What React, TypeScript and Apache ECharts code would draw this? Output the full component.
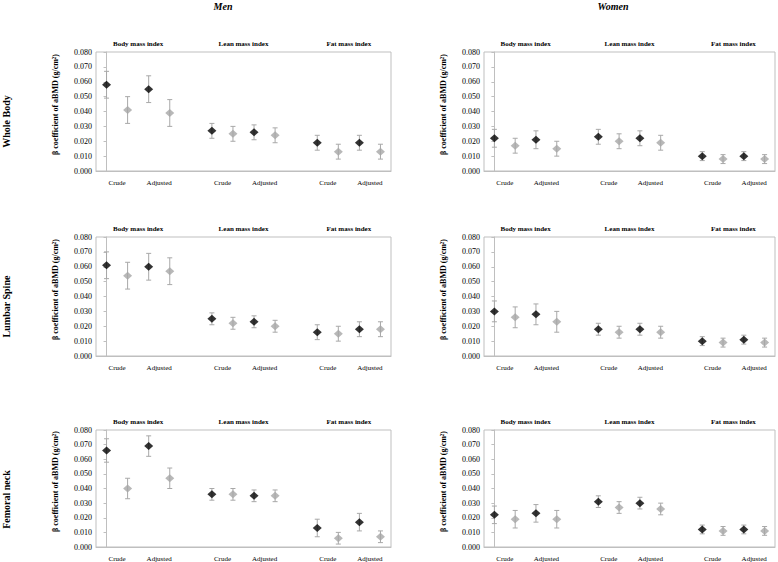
import React, { useEffect, useRef } from "react";
import * as echarts from "echarts";

const sexes = ["Men", "Women"];
const sites = ["Whole Body", "Lumbar Spine", "Femoral neck"];
const indices = ["Body mass index", "Lean mass index", "Fat mass index"];
const models = ["Crude", "Adjusted"];
const yAxisTitle = "β coefficient of aBMD (g/cm²)";
const yMin = 0;
const yMax = 0.08;
const yStep = 0.01;

// order in each array: for each index (BMI, LMI, FMI): crude black, crude grey, adjusted black, adjusted grey
const menWholeBodyBeta = [0.058, 0.041, 0.055, 0.039, 0.027, 0.025, 0.026, 0.024, 0.019, 0.013, 0.019, 0.013];
const menWholeBodyLower = [0.049, 0.032, 0.046, 0.030, 0.022, 0.020, 0.021, 0.019, 0.014, 0.008, 0.014, 0.008];
const menWholeBodyUpper = [0.067, 0.050, 0.064, 0.048, 0.032, 0.030, 0.031, 0.029, 0.024, 0.018, 0.024, 0.018];

const womenWholeBodyBeta = [0.022, 0.017, 0.021, 0.015, 0.023, 0.020, 0.022, 0.019, 0.010, 0.008, 0.010, 0.008];
const womenWholeBodyLower = [0.016, 0.012, 0.015, 0.010, 0.018, 0.015, 0.017, 0.014, 0.007, 0.005, 0.007, 0.005];
const womenWholeBodyUpper = [0.028, 0.022, 0.027, 0.020, 0.028, 0.025, 0.027, 0.024, 0.013, 0.011, 0.013, 0.011];

const menLumbarBeta = [0.061, 0.054, 0.060, 0.057, 0.025, 0.022, 0.023, 0.020, 0.016, 0.015, 0.018, 0.018];
const menLumbarLower = [0.052, 0.045, 0.051, 0.048, 0.021, 0.018, 0.019, 0.016, 0.011, 0.010, 0.013, 0.013];
const menLumbarUpper = [0.070, 0.063, 0.069, 0.066, 0.029, 0.026, 0.027, 0.024, 0.021, 0.020, 0.023, 0.023];

const womenLumbarBeta = [0.030, 0.026, 0.028, 0.023, 0.018, 0.016, 0.018, 0.016, 0.010, 0.009, 0.011, 0.009];
const womenLumbarLower = [0.023, 0.019, 0.021, 0.016, 0.014, 0.012, 0.014, 0.012, 0.007, 0.006, 0.008, 0.006];
const womenLumbarUpper = [0.037, 0.033, 0.035, 0.030, 0.022, 0.020, 0.022, 0.020, 0.013, 0.012, 0.014, 0.012];

const menFemoralBeta = [0.066, 0.040, 0.069, 0.047, 0.036, 0.036, 0.035, 0.035, 0.013, 0.006, 0.017, 0.007];
const menFemoralLower = [0.058, 0.033, 0.062, 0.040, 0.032, 0.032, 0.031, 0.031, 0.007, 0.002, 0.011, 0.003];
const menFemoralUpper = [0.074, 0.047, 0.076, 0.054, 0.040, 0.040, 0.039, 0.039, 0.019, 0.010, 0.023, 0.011];

const womenFemoralBeta = [0.022, 0.019, 0.023, 0.019, 0.031, 0.027, 0.030, 0.026, 0.012, 0.011, 0.012, 0.011];
const womenFemoralLower = [0.016, 0.013, 0.017, 0.013, 0.027, 0.023, 0.026, 0.022, 0.009, 0.008, 0.009, 0.008];
const womenFemoralUpper = [0.028, 0.025, 0.029, 0.025, 0.035, 0.031, 0.034, 0.030, 0.015, 0.014, 0.015, 0.014];

const panelData = [
  [
    [menWholeBodyBeta, menWholeBodyLower, menWholeBodyUpper],
    [womenWholeBodyBeta, womenWholeBodyLower, womenWholeBodyUpper],
  ],
  [
    [menLumbarBeta, menLumbarLower, menLumbarUpper],
    [womenLumbarBeta, womenLumbarLower, womenLumbarUpper],
  ],
  [
    [menFemoralBeta, menFemoralLower, menFemoralUpper],
    [womenFemoralBeta, womenFemoralLower, womenFemoralUpper],
  ],
];

const FONT = '"Liberation Serif", "Times New Roman", serif';
const GREY_BORDER = "#bfbfbf";
const BAR_COLOR = "#a8a8a8";
const GREY_MARK = "#a6a6a6";

const slotOf = (i: number) => Math.floor(i / 4) * 5 + (i % 4);
const near = (a: number, b: number) => Math.abs(a - b) < 1e-6;

export default function App() {
  const ref = useRef<HTMLDivElement>(null);

  useEffect(() => {
    if (!ref.current) return;
    const chart = echarts.init(ref.current, undefined, { renderer: "svg" });

    const colLeft = [96, 484];
    const colWidth = [295, 293];
    const rowTop = [52, 237, 430];
    const rowHeight = 119;
    const colCenter = [223, 613];
    const nSlots = indices.length * 5 - 1;

    const grid: any[] = [];
    const xAxis: any[] = [];
    const yAxis: any[] = [];
    const series: any[] = [];
    const graphic: any[] = [];

    sexes.forEach((s, c) => {
      graphic.push({
        type: "text",
        x: colCenter[c],
        y: 6,
        style: {
          text: s,
          fontFamily: FONT,
          fontSize: 10,
          fontWeight: "bold",
          fontStyle: "italic",
          fill: "#000",
          align: "center",
          verticalAlign: "middle",
        },
      });
    });

    sites.forEach((site, r) => {
      graphic.push({
        type: "text",
        x: 6,
        y: rowTop[r] + rowHeight / 2 + 10,
        rotation: Math.PI / 2,
        style: {
          text: site,
          fontFamily: FONT,
          fontSize: 10,
          fontWeight: "bold",
          fill: "#000",
          align: "center",
          verticalAlign: "middle",
        },
      });

      sexes.forEach((_, c) => {
        const p = grid.length;
        const [beta, lo, hi] = panelData[r][c];
        grid.push({
          left: colLeft[c],
          top: rowTop[r],
          width: colWidth[c],
          height: rowHeight,
          show: true,
          borderColor: GREY_BORDER,
          borderWidth: 1,
          backgroundColor: "transparent",
        });
        const xBase = {
          type: "value",
          gridIndex: p,
          min: -0.5,
          max: nSlots - 0.5,
          interval: 0.5,
          splitLine: { show: false },
          axisTick: { show: false },
        };
        xAxis.push({
          ...xBase,
          position: "bottom",
          axisLine: { show: true, lineStyle: { color: GREY_BORDER, width: 1 } },
          axisLabel: {
            show: true,
            margin: 8,
            fontFamily: FONT,
            fontSize: 7,
            color: "#000",
            formatter: (v: number) => {
              for (let g = 0; g < indices.length; g++) {
                for (let m = 0; m < models.length; m++) {
                  if (near(v, g * 5 + m * 2 + 0.5)) return models[m];
                }
              }
              return "";
            },
          },
        });
        xAxis.push({
          ...xBase,
          position: "top",
          axisLine: { show: false },
          axisLabel: {
            show: true,
            margin: 5,
            fontFamily: FONT,
            fontSize: 7,
            fontWeight: "bold",
            color: "#000",
            formatter: (v: number) => {
              for (let g = 0; g < indices.length; g++) {
                if (near(v, g * 5 + 1.5)) return indices[g];
              }
              return "";
            },
          },
        });
        yAxis.push({
          type: "value",
          gridIndex: p,
          min: yMin,
          max: yMax,
          interval: yStep,
          name: yAxisTitle,
          nameLocation: "middle",
          nameGap: 37,
          nameTextStyle: {
            fontFamily: FONT,
            fontSize: 8,
            fontWeight: "bold",
            color: "#000",
            padding: [0, 0, 0, 14],
          },
          splitLine: { show: false },
          axisLine: { show: true, lineStyle: { color: GREY_BORDER, width: 1 } },
          axisTick: { show: true, length: 3, lineStyle: { color: GREY_BORDER } },
          axisLabel: {
            margin: 4,
            fontFamily: FONT,
            fontSize: 8,
            color: "#000",
            formatter: (v: number) => v.toFixed(3),
          },
        });

        const bars = beta.map((_: number, i: number) => [slotOf(i), lo[i], hi[i]]);
        series.push({
          type: "custom",
          name: "CI",
          xAxisIndex: 2 * p,
          yAxisIndex: p,
          z: 1,
          data: bars,
          encode: { x: 0, y: [1, 2] },
          renderItem: (params: any, api: any) => {
            const x = api.value(0);
            const a = api.coord([x, api.value(1)]);
            const b = api.coord([x, api.value(2)]);
            const half = 2.5;
            const style = { stroke: BAR_COLOR, lineWidth: 1 };
            return {
              type: "group",
              children: [
                { type: "line", shape: { x1: a[0], y1: a[1], x2: b[0], y2: b[1] }, style },
                { type: "line", shape: { x1: a[0] - half, y1: a[1], x2: a[0] + half, y2: a[1] }, style },
                { type: "line", shape: { x1: b[0] - half, y1: b[1], x2: b[0] + half, y2: b[1] }, style },
              ],
            };
          },
        });
        const blackPts: number[][] = [];
        const greyPts: number[][] = [];
        beta.forEach((v: number, i: number) => {
          if (i % 2 === 0) blackPts.push([slotOf(i), v]);
          else greyPts.push([slotOf(i), v]);
        });
        series.push({
          type: "scatter",
          name: "black",
          xAxisIndex: 2 * p,
          yAxisIndex: p,
          z: 3,
          symbol: "diamond",
          symbolSize: [9, 8],
          itemStyle: { color: "#000" },
          data: blackPts,
        });
        series.push({
          type: "scatter",
          name: "grey",
          xAxisIndex: 2 * p,
          yAxisIndex: p,
          z: 3,
          symbol: "diamond",
          symbolSize: [9, 8],
          itemStyle: { color: GREY_MARK },
          data: greyPts,
        });
      });
    });

    chart.setOption({
      animation: false,
      backgroundColor: "#fff",
      grid,
      xAxis,
      yAxis,
      series,
      graphic,
    });

    return () => chart.dispose();
  }, []);

  return (
    <div
      ref={ref}
      style={{ position: "fixed", left: 0, top: 0, width: 778, height: 562 }}
    />
  );
}
